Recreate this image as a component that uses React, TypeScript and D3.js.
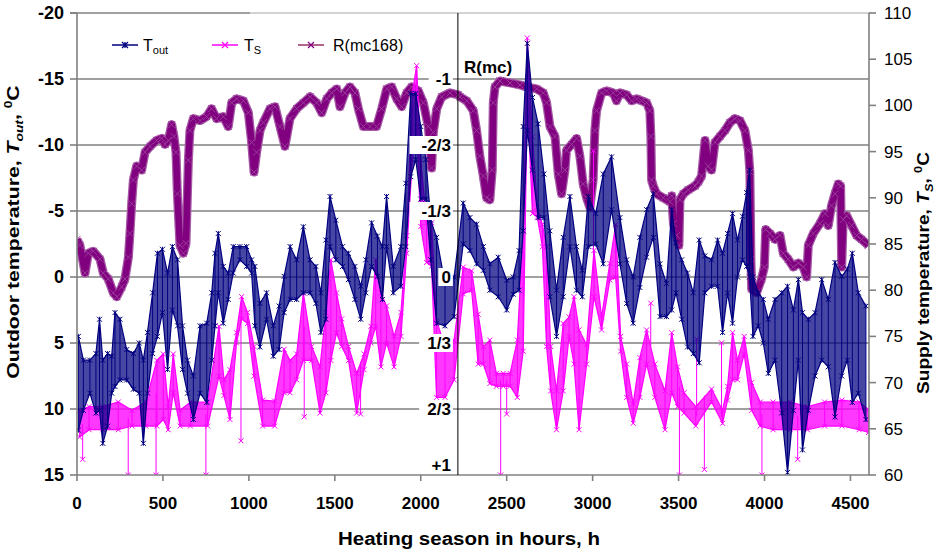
import React from "react";
import * as d3 from "d3";

// ---------- data ----------
const xTicks = [0, 500, 1000, 1500, 2000, 2500, 3000, 3500, 4000, 4500];
const leftTicks = [-20, -15, -10, -5, 0, 5, 10, 15];
const rightTicks = [60, 65, 70, 75, 80, 85, 90, 95, 100, 105, 110];
const rTickValues = [-1, -2 / 3, -1 / 3, 0, 1 / 3, 2 / 3, 1];
const rTickLabels = ["-1", "-2/3", "-1/3", "0", "1/3", "2/3", "+1"];

// Outdoor temperature: per time bin, upper (coldest) and lower (warmest) reading
const toutHours = [8,37,75,110,131,150,178,202,221,250,289,328,362,386,410,440,468,497,527,555,585,614,643,677,716,755,784,803,822,851,880,909,948,987,1016,1035,1064,1103,1142,1176,1205,1240,1278,1317,1356,1390,1419,1448,1472,1506,1545,1579,1617,1651,1680,1714,1748,1777,1801,1840,1884,1913,1942,1971,2000,2030,2058,2092,2141,2194,2247,2286,2325,2364,2402,2451,2500,2538,2572,2596,2620,2650,2683,2717,2751,2790,2829,2868,2906,2940,2975,3018,3062,3110,3159,3198,3236,3275,3314,3353,3392,3430,3460,3485,3518,3552,3586,3620,3653,3692,3727,3756,3785,3814,3843,3872,3896,3913,3933,3964,3993,4022,4061,4100,4134,4168,4197,4221,4255,4294,4333,4371,4410,4449,4482,4511,4546,4590];
const toutHi = [4.5,6.3,6.3,5.8,3.2,6.3,5.8,6.0,2.7,3.2,5.5,5.8,5.0,6.3,4.2,1.2,-1.8,-2.1,-0.3,-2.3,-1.3,3.7,6.3,7.5,3.7,3.5,1.2,-1.8,-3.3,-0.8,-0.3,-2.3,-2.3,-2.3,-1.3,-0.8,2.0,1.2,3.7,2.2,-0.05,-2.3,-1.3,-3.8,-1.3,-0.8,1.2,-2.8,-6.1,-4.3,-2.3,-1.8,-0.8,0.7,-1.3,-4.1,-3.1,-2.3,-6.1,-0.8,-2.3,-7.1,-13.9,-13.9,-11.4,-8.9,-4.3,-3.0,0.5,0.0,-5.6,-4.5,-4.0,-2.3,-1.0,-1.5,0.25,0.0,-2.0,-11.4,-17.7,-13.6,-11.6,-7.8,-3.5,1.0,-3.0,-6.1,-2.3,-0.5,-6.1,-4.8,-7.8,-9.1,-4.5,-1.3,0.0,-3.0,-5.1,-6.3,-1.0,0.5,-5.1,-2.6,-1.3,-0.3,1.2,-2.8,-1.6,-1.3,-2.8,-1.8,-3.3,-4.8,-2.8,-4.6,-6.4,-8.1,0.0,1.2,1.7,3.2,1.7,1.2,0.7,2.5,0.2,2.7,3.2,2.7,0.2,1.7,-1.1,-0.05,-0.6,-1.8,1.2,2.2];
const toutLo = [11.6,10.1,8.8,10.3,10.1,12.6,11.3,8.8,8.3,7.8,7.8,8.5,8.8,12.6,8.8,5.8,4.5,2.7,7.0,2.5,3.7,7.0,8.8,10.8,8.8,9.5,6.3,3.7,1.2,3.5,1.7,-0.3,-1.3,-0.8,-0.3,3.7,5.3,3.2,6.0,5.5,2.7,1.7,1.7,1.2,1.2,2.0,4.2,3.2,-2.3,-1.3,-0.8,0.2,1.7,3.2,1.2,-0.8,-0.05,1.7,-2.3,1.2,0.7,-2.3,-7.6,-8.9,-5.9,-5.9,-1.3,3.5,3.7,3.0,-2.5,-2.0,-1.0,-0.5,1.0,1.5,2.5,1.3,1.0,-3.5,-11.1,-8.1,-4.5,-4.5,1.5,4.5,1.5,-2.3,1.0,1.5,-2.3,-2.5,-1.0,-5.1,-1.0,2.0,3.5,0.8,-1.5,-3.0,3.0,3.0,2.5,1.2,3.2,5.3,5.8,6.5,1.2,0.7,0.7,4.2,1.2,3.5,0.0,-1.3,-0.8,0.0,4.5,3.7,5.0,7.3,6.3,10.3,14.8,10.1,6.3,13.1,10.1,7.5,6.3,6.8,10.6,7.5,6.3,9.5,8.8,10.8];

// Supply temperature (deg C): per time bin, highest and lowest reading
const tsHours = [15,70,150,240,320,400,465,502,531,560,600,660,760,826,855,890,928,958,992,1030,1080,1150,1205,1240,1278,1317,1365,1414,1448,1477,1510,1540,1580,1627,1670,1710,1738,1768,1801,1845,1885,1918,1951,1976,2000,2034,2063,2092,2141,2194,2247,2296,2334,2364,2402,2440,2480,2520,2562,2596,2620,2650,2678,2708,2732,2756,2790,2829,2863,2892,2921,2965,3008,3052,3100,3134,3163,3198,3236,3275,3314,3362,3421,3460,3494,3532,3600,3692,3756,3785,3814,3843,3882,3925,3975,4050,4150,4250,4350,4450,4550,4605];
const tsHi = [67.0,67.4,67.4,67.9,67.0,67.9,72.4,73.1,67.4,73.1,67.0,67.9,67.9,76.1,70.3,71.4,75.4,79.3,77.6,73.9,68.1,68.0,73.6,72.4,73.1,79.7,73.9,71.7,77.6,83.3,79.7,76.9,73.9,71.0,73.1,76.1,83.3,79.7,78.3,75.0,77.6,85.9,101.3,104.3,94.1,87.3,87.3,76.7,73.9,74.6,82.5,82.1,77.4,73.9,74.6,71.0,71.0,71.0,74.6,86.4,107.3,96.6,89.0,87.1,84.7,73.9,69.1,76.4,77.1,79.3,75.7,74.1,84.3,77.1,82.9,87.1,75.0,72.0,67.7,72.7,75.7,72.0,69.1,75.4,71.7,68.9,67.4,69.3,67.0,69.6,75.4,72.4,75.0,70.0,67.9,67.9,67.9,67.4,67.9,68.1,67.9,67.1];
const tsLo = [64.1,64.9,64.9,64.9,65.3,65.3,65.3,66.0,64.9,68.9,65.3,65.3,65.3,70.7,68.6,66.0,74.3,76.9,76.4,70.7,65.3,65.3,68.9,68.9,70.3,72.4,72.4,66.7,68.9,72.4,75.4,73.9,72.4,66.7,71.4,74.3,76.1,71.7,74.3,71.7,75.0,84.0,94.1,97.7,86.9,83.0,82.6,68.4,68.4,70.3,79.6,80.0,72.0,72.0,69.9,69.6,69.6,69.6,68.4,73.4,100.9,88.3,87.9,84.7,73.9,69.1,64.9,69.1,75.0,72.0,64.9,72.0,79.3,75.7,81.1,81.4,73.4,68.4,65.6,68.4,72.0,68.4,64.9,68.9,67.4,66.7,65.3,67.9,65.6,68.1,70.3,70.3,73.1,67.0,65.3,64.9,64.9,64.9,65.3,65.3,64.9,64.6];
const tsSpikeHours = [33,298,460,750,954,1322,1650,2465,2500,3005,3338,3505,3605,3650,3750,3985,4193];
const tsSpikeValues = [61.7,60,60,60,63.7,66.3,66.6,60,66.6,95.1,78.6,60,74.7,60.6,74.3,60,61.7];

// R(mc168)
const rHours = [0,17,47,66,95,134,153,182,211,231,260,279,299,308,318,328,347,376,396,425,463,493,512,531,551,564,576,584,599,619,634,648,657,677,716,754,783,812,851,880,900,929,968,997,1016,1030,1045,1065,1084,1123,1152,
1181,1210,1239,1278,1317,1356,1394,1424,1453,1482,1511,1530,1559,1588,1617,1637,1666,1705,1743,1773,1802,1831,1860,1889,1918,1947,1986,2015,2044,2063,2073,2093,2122,2170,2218,
2228,2267,2306,2325,2344,2364,2383,2402,2416,2422,2432,2461,2519,2577,2616,2674,2713,2732,2752,2781,2800,2819,2839,2848,2878,2907,2926,2945,2965,2984,3003,3013,3023,3052,3081,3120,3139,3159,3198,3227,3256,3285,3314,3333,3339,3343,3353,3372,3411,3450,
3460,3470,3489,3502,3508,3528,3557,3596,3615,3634,3654,3673,3692,3712,3741,3770,3799,3828,3857,3886,3906,3915,3921,3925,3954,3983,3999,4007,4032,4061,4090,4109,4138,4168,4197,4226,4245,4255,4284,4323,4352,4371,4390,4410,4429,4443,4449,4458,4478,4507,4536,4565,4604];
const rValues = [-0.19,-0.16,-0.02,-0.12,-0.13,-0.09,-0.02,0.01,0.08,0.10,0.05,0.01,-0.10,-0.22,-0.37,-0.49,-0.56,-0.54,-0.63,-0.66,-0.69,-0.70,-0.67,-0.69,-0.77,-0.71,-0.63,-0.42,-0.16,-0.12,-0.17,-0.59,-0.74,-0.80,-0.79,-0.81,-0.85,-0.80,-0.81,-0.76,-0.88,-0.90,-0.89,-0.83,-0.68,-0.53,-0.63,-0.74,-0.78,-0.85,-0.86,
-0.76,-0.66,-0.80,-0.85,-0.88,-0.91,-0.88,-0.83,-0.90,-0.93,-0.95,-0.86,-0.93,-0.96,-0.93,-0.85,-0.76,-0.76,-0.76,-0.85,-0.95,-0.96,-0.90,-0.86,-0.93,-0.96,-0.94,-0.88,-0.76,-0.55,-0.73,-0.85,-0.91,-0.93,-0.92,
-0.91,-0.89,-0.84,-0.74,-0.61,-0.51,-0.40,-0.39,-0.54,-0.88,-0.96,-0.99,-0.98,-0.97,-0.96,-0.95,-0.93,-0.88,-0.76,-0.71,-0.52,-0.42,-0.54,-0.64,-0.67,-0.70,-0.61,-0.47,-0.40,-0.35,-0.49,-0.74,-0.84,-0.93,-0.94,-0.93,-0.89,-0.93,-0.92,-0.89,-0.90,-0.89,-0.88,-0.84,-0.71,-0.49,-0.46,-0.42,-0.40,-0.38,
-0.41,-0.27,-0.21,-0.16,-0.39,-0.42,-0.44,-0.46,-0.48,-0.51,-0.69,-0.56,-0.54,-0.68,-0.71,-0.74,-0.78,-0.80,-0.79,-0.74,-0.64,-0.53,-0.09,0.06,0.08,0.01,-0.05,-0.24,-0.22,-0.19,-0.21,-0.12,-0.09,-0.05,-0.07,-0.05,0.00,-0.16,-0.22,-0.27,-0.32,-0.26,-0.36,-0.42,-0.47,-0.46,-0.05,-0.29,-0.31,-0.26,-0.21,-0.19,-0.16];

// ---------- layout ----------
const W = 938, H = 555;
const PL = 77, PR = 869, PT = 13, PB = 475;
const X_MAX = 4608;
const R_AXIS_HOUR = 2216;
const FONT = "Arial, 'Liberation Sans', sans-serif";
const C_TOUT = "#000080";
const C_TS = "#FF00FF";
const C_R = "#800080";

function asterisk(cx: number, cy: number, s: number) {
  return `M${cx - s},${cy - s}L${cx + s},${cy + s}M${cx - s},${cy + s}L${cx + s},${cy - s}M${cx},${cy - s}L${cx},${cy + s}`;
}
function cross(cx: number, cy: number, s: number) {
  return `M${cx - s},${cy - s}L${cx + s},${cy + s}M${cx - s},${cy + s}L${cx + s},${cy - s}`;
}

export default function App() {
  const x = d3.scaleLinear().domain([0, X_MAX]).range([PL, PR]);
  const yL = d3.scaleLinear().domain([-20, 15]).range([PT, PB]);
  const yS = d3.scaleLinear().domain([110, 60]).range([PT, PB]);
  const yR = d3.scaleLinear().domain([-4 / 3, 1]).range([PT, PB]);

  const tIdx = d3.range(toutHours.length);
  const toutArea = d3.area<number>().x((i) => x(toutHours[i])).y0((i) => yL(toutLo[i])).y1((i) => yL(toutHi[i]))(tIdx) || "";
  const toutHiLine = d3.line<number>().x((i) => x(toutHours[i])).y((i) => yL(toutHi[i]))(tIdx) || "";
  const toutLoLine = d3.line<number>().x((i) => x(toutHours[i])).y((i) => yL(toutLo[i]))(tIdx) || "";
  const toutBars = tIdx.map((i) => `M${x(toutHours[i])},${yL(toutHi[i])}V${yL(toutLo[i])}`).join("");
  const toutMarks = tIdx.map((i) => asterisk(x(toutHours[i]), yL(toutHi[i]), 2.5) + asterisk(x(toutHours[i]), yL(toutLo[i]), 2.5)).join("");

  const sIdx = d3.range(tsHours.length);
  const tsArea = d3.area<number>().x((i) => x(tsHours[i])).y0((i) => yS(tsLo[i])).y1((i) => yS(tsHi[i]))(sIdx) || "";
  const tsHiLine = d3.line<number>().x((i) => x(tsHours[i])).y((i) => yS(tsHi[i]))(sIdx) || "";
  const tsLoLine = d3.line<number>().x((i) => x(tsHours[i])).y((i) => yS(tsLo[i]))(sIdx) || "";
  const tsBars = sIdx.map((i) => `M${x(tsHours[i])},${yS(tsHi[i])}V${yS(tsLo[i])}`).join("");
  const tsMarks = sIdx.map((i) => cross(x(tsHours[i]), yS(tsHi[i]), 2.5) + cross(x(tsHours[i]), yS(tsLo[i]), 2.5)).join("");
  const spikes = tsSpikeHours.map((h, k) => {
    const j = d3.leastIndex(tsHours, (a, b) => Math.abs(a - h) - Math.abs(b - h)) ?? 0;
    const base = (tsHi[j] + tsLo[j]) / 2;
    return { x: x(h), y0: yS(base), y1: yS(tsSpikeValues[k]) };
  });

  const rIdx = d3.range(rHours.length);
  const rLine = d3.line<number>().x((i) => x(rHours[i])).y((i) => yR(rValues[i]))(rIdx) || "";
  const rMarks = rIdx.map((i) => cross(x(rHours[i]), yR(rValues[i]), 3.5)).join("");

  const rAxisX = x(R_AXIS_HOUR);

  return (
    <svg width={W} height={H} style={{ position: "absolute", left: 0, top: 0, background: "#fff" }} fontFamily={FONT}>
      <defs>
        <clipPath id="plot">
          <rect x={PL} y={PT - 6} width={PR - PL} height={PB - PT + 6} />
        </clipPath>
      </defs>
      <rect x={0} y={0} width={W} height={H} fill="#fff" />

      {/* grid lines */}
      {leftTicks.filter((t) => t > -20 && t < 15).map((t) => (
        <line key={t} x1={PL} x2={PR} y1={yL(t)} y2={yL(t)} stroke="#808080" strokeWidth={1.6} />
      ))}
      <line x1={PL - 7} x2={250} y1={yL(-20)} y2={yL(-20)} stroke="#808080" strokeWidth={1.4} />
      <line x1={250} x2={PR + 2} y1={yL(-20)} y2={yL(-20)} stroke="#c4c4c4" strokeWidth={1.4} />

      {/* data */}
      <g clipPath="url(#plot)">
        <path d={rLine} fill="none" stroke="#a65aa6" strokeWidth={9} strokeLinejoin="round" />
        <path d={rLine} fill="none" stroke={C_R} strokeWidth={6.5} strokeLinejoin="round" />
        <path d={rMarks} fill="none" stroke="#9a3c9a" strokeWidth={1} />

        <path d={tsArea} fill={C_TS} fillOpacity={0.78} stroke="none" />
        <path d={tsBars} fill="none" stroke={C_TS} strokeWidth={1} />
        <path d={tsHiLine} fill="none" stroke={C_TS} strokeWidth={1.2} />
        <path d={tsLoLine} fill="none" stroke={C_TS} strokeWidth={1.2} />
        <path d={tsMarks} fill="none" stroke={C_TS} strokeWidth={1} />
        {spikes.map((s, k) => (
          <g key={k}>
            <line x1={s.x} x2={s.x} y1={s.y0} y2={s.y1} stroke={C_TS} strokeWidth={1} />
            <path d={cross(s.x, s.y1, 2.5)} stroke={C_TS} strokeWidth={1} fill="none" />
          </g>
        ))}

        <path d={toutArea} fill={C_TOUT} fillOpacity={0.72} stroke="none" />
        <path d={toutBars} fill="none" stroke={C_TOUT} strokeWidth={1} />
        <path d={toutHiLine} fill="none" stroke={C_TOUT} strokeWidth={1.2} />
        <path d={toutLoLine} fill="none" stroke={C_TOUT} strokeWidth={1.2} />
        <path d={toutMarks} fill="none" stroke={C_TOUT} strokeWidth={1} />
      </g>

      {/* axes */}
      <line x1={PL} x2={PL} y1={PT} y2={PB} stroke="#808080" strokeWidth={1.6} />
      <line x1={PL} x2={PR} y1={PB} y2={PB} stroke="#808080" strokeWidth={1.6} />
      <line x1={PR} x2={PR} y1={PT} y2={PB} stroke="#808080" strokeWidth={1.6} />
      <line x1={rAxisX} x2={rAxisX} y1={PT} y2={PB} stroke="#000" strokeWidth={1} />

      {leftTicks.map((t) => (
        <g key={t}>
          <line x1={PL - 7} x2={PL} y1={yL(t)} y2={yL(t)} stroke="#808080" strokeWidth={1.6} />
          <text x={64} y={yL(t)} dy="0.35em" textAnchor="end" fontWeight="bold" fontSize={18}>{t}</text>
        </g>
      ))}
      {rightTicks.map((t) => (
        <g key={t}>
          <line x1={PR} x2={PR + 7} y1={yS(t)} y2={yS(t)} stroke="#808080" strokeWidth={1.6} />
          <text x={884} y={yS(t)} dy="0.35em" textAnchor="start" fontSize={17}>{t}</text>
        </g>
      ))}
      {xTicks.map((t) => (
        <g key={t}>
          <line x1={x(t)} x2={x(t)} y1={PB} y2={PB + 6} stroke="#808080" strokeWidth={1.6} />
          <text x={x(t)} y={509} textAnchor="middle" fontWeight="bold" fontSize={17}>{t}</text>
        </g>
      ))}

      {/* R(mc) axis labels */}
      {rTickValues.map((v, k) => {
        const lbl = rTickLabels[k];
        const yy = Math.min(yR(v), PB - 10);
        const w = lbl.length * 9.6 + 2;
        return (
          <g key={lbl}>
            <rect x={rAxisX - 8 - w} y={yy - 9} width={w + 3} height={18} fill="#fff" />
            <text x={rAxisX - 7} y={yy} dy="0.36em" textAnchor="end" fontWeight="bold" fontSize={17}>{lbl}</text>
          </g>
        );
      })}
      <text x={464} y={73} fontWeight="bold" fontSize={17}>R(mc)</text>

      {/* legend */}
      <g fontSize={16}>
        <line x1={112} x2={138} y1={45} y2={45} stroke={C_TOUT} strokeWidth={1.5} />
        <path d={asterisk(125, 45, 3)} stroke={C_TOUT} strokeWidth={1.2} fill="none" />
        <text x={143} y={51}>T<tspan fontSize={11} dy={3}>out</tspan></text>

        <line x1={212} x2={238} y1={45} y2={45} stroke={C_TS} strokeWidth={1.5} />
        <path d={cross(225, 45, 3)} stroke={C_TS} strokeWidth={1.2} fill="none" />
        <text x={244} y={51}>T<tspan fontSize={11} dy={3}>S</tspan></text>

        <line x1={298} x2={324} y1={45} y2={45} stroke="#993366" strokeWidth={1.5} />
        <path d={cross(311, 45, 3)} stroke={C_R} strokeWidth={1.2} fill="none" />
        <text x={333} y={51}>R(mc168)</text>
      </g>

      {/* axis titles */}
      <text x={469} y={545} textAnchor="middle" fontWeight="bold" fontSize={18} textLength={262} lengthAdjust="spacingAndGlyphs">
        Heating season in hours, h
      </text>
      <text transform="translate(19,232) rotate(-90) scale(1.25,1)" textAnchor="middle" fontWeight="bold" fontSize={17}>
        Outdoor temperature, <tspan fontStyle="italic">T</tspan>
        <tspan fontStyle="italic" fontSize={11} dy={4}>out</tspan>
        <tspan dy={-4}>, </tspan>
        <tspan fontSize={11} dy={-7}>0</tspan>
        <tspan dy={7}>C</tspan>
      </text>
      <text transform="translate(929,273) rotate(-90) scale(1.16,1)" textAnchor="middle" fontWeight="bold" fontSize={16.5}>
        Supply temperature, <tspan fontStyle="italic">T</tspan>
        <tspan fontStyle="italic" fontSize={11} dy={4}>S</tspan>
        <tspan dy={-4}>, </tspan>
        <tspan fontSize={11} dy={-7}>0</tspan>
        <tspan dy={7}>C</tspan>
      </text>
    </svg>
  );
}
